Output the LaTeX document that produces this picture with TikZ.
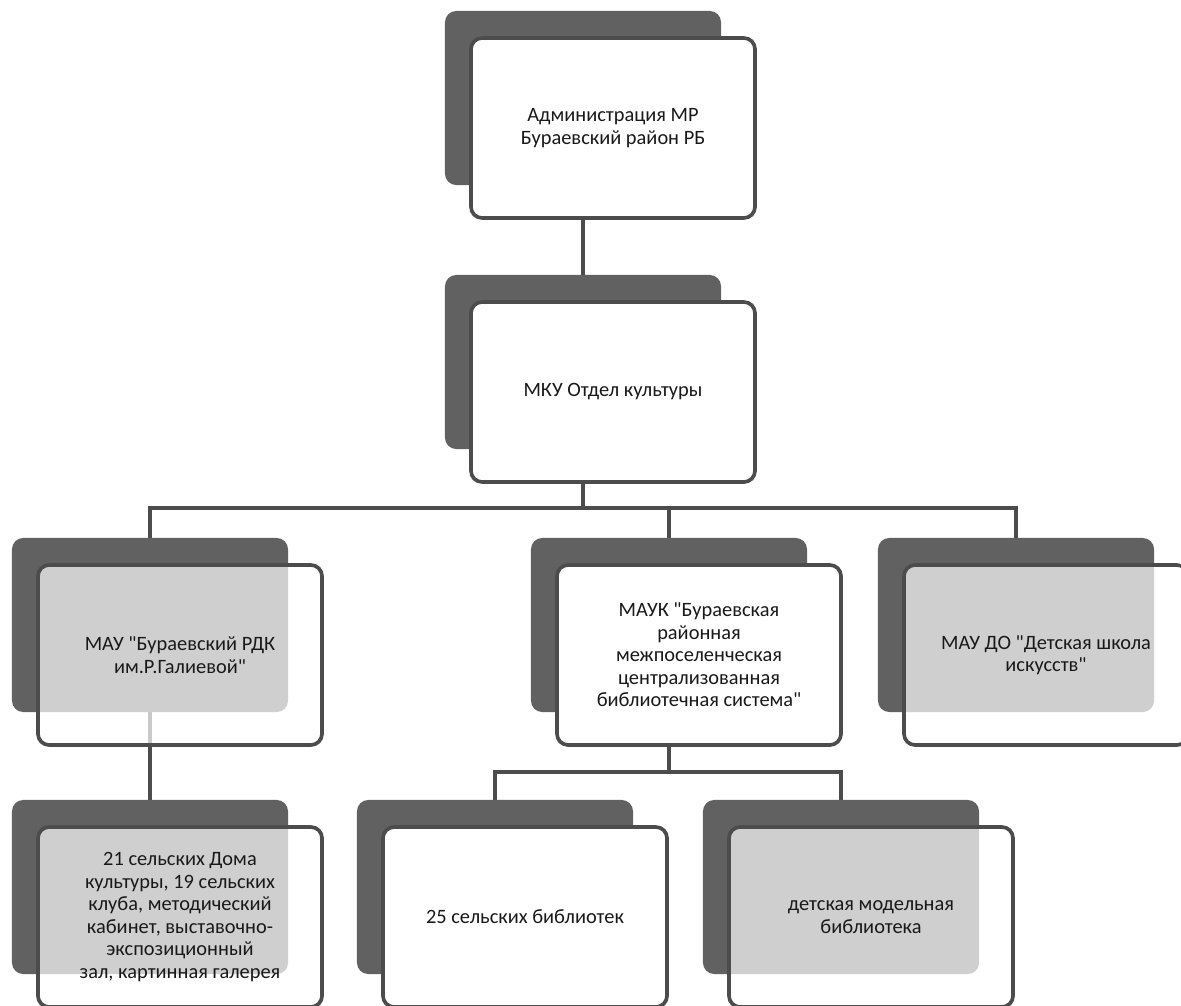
\documentclass[tikz,border=0pt]{standalone}
\usepackage{fontspec}
\setmainfont{Carlito}[Ligatures=TeXOff]
\usetikzlibrary{positioning,backgrounds}

\begin{document}
\begin{tikzpicture}[
    x=0.025cm,y=-0.025cm,
    back/.style={rectangle,rounded corners=8pt,fill=black!62,minimum width=6.9cm,minimum height=4.35cm,inner sep=0pt},
    card/.style={rectangle,rounded corners=8pt,draw=black!70,line width=2.6pt,fill=white,minimum width=7.1cm,minimum height=4.5cm,align=center,text=black!90,font=\fontsize{14.5}{16}\selectfont},
    glass/.style={card,fill opacity=0.7,text opacity=1},
    link/.style={draw=black!70,line width=2.6pt}
]
    \useasboundingbox (0,0) rectangle (1181,1005);

    % Shadow boxes
    \node[back] (adm) at (583,98) {};
    \node[back] (mku) at (583,362) {};
    \node[back] (mau) at (150,625) {};
    \node[back] (mauk) at (669,625) {};
    \node[back] (dshi) at (1016,625) {};
    \node[back] (dk) at (150,887) {};
    \node[back] (sb) at (495,887) {};
    \node[back] (dmb) at (841,887) {};

    % Cards
    \node[card] (adm-f) at ([shift={(30,30)}]adm) {Администрация МР\\Бураевский район РБ};
    \node[card] (mku-f) at ([shift={(30,30)}]mku) {МКУ Отдел культуры};
    \node[glass] (mau-f) at ([shift={(30,30)}]mau) {МАУ "Бураевский РДК\\им.Р.Галиевой"};
    \node[card] (mauk-f) at ([shift={(30,30)}]mauk) {МАУК "Бураевская\\районная\\межпоселенческая\\централизованная\\библиотечная система"};
    \node[glass] (dshi-f) at ([shift={(30,30)}]dshi) {МАУ ДО "Детская школа\\искусств"};
    \node[glass] (dk-f) at ([shift={(30,30)}]dk) {21 сельских Дома\\культуры, 19 сельских\\клуба, методический\\кабинет, выставочно-\\экспозиционный\\зал, картинная галерея};
    \node[card] (sb-f) at ([shift={(30,30)}]sb) {25 сельских библиотек};
    \node[glass] (dmb-f) at ([shift={(30,30)}]dmb) {детская модельная\\библиотека};

    % Links
    \coordinate (bus1) at (mku.south |- 0,508);
    \coordinate (bus2) at (mauk.south |- 0,772);
    \begin{pgfonlayer}{background}
        \draw[link] (adm) -- (mku);
        \draw[link] (mku) -- (bus1);
        \draw[link] (mau.north) |- (bus1) -| (dshi.north);
        \draw[link] (bus1 -| mauk.north) -- (mauk.north);
        \draw[link] (mau) -- (dk);
        \draw[link] (mauk) -- (bus2);
        \draw[link] (sb.north) |- (bus2) -| (dmb.north);
    \end{pgfonlayer}
\end{tikzpicture}
\end{document}
